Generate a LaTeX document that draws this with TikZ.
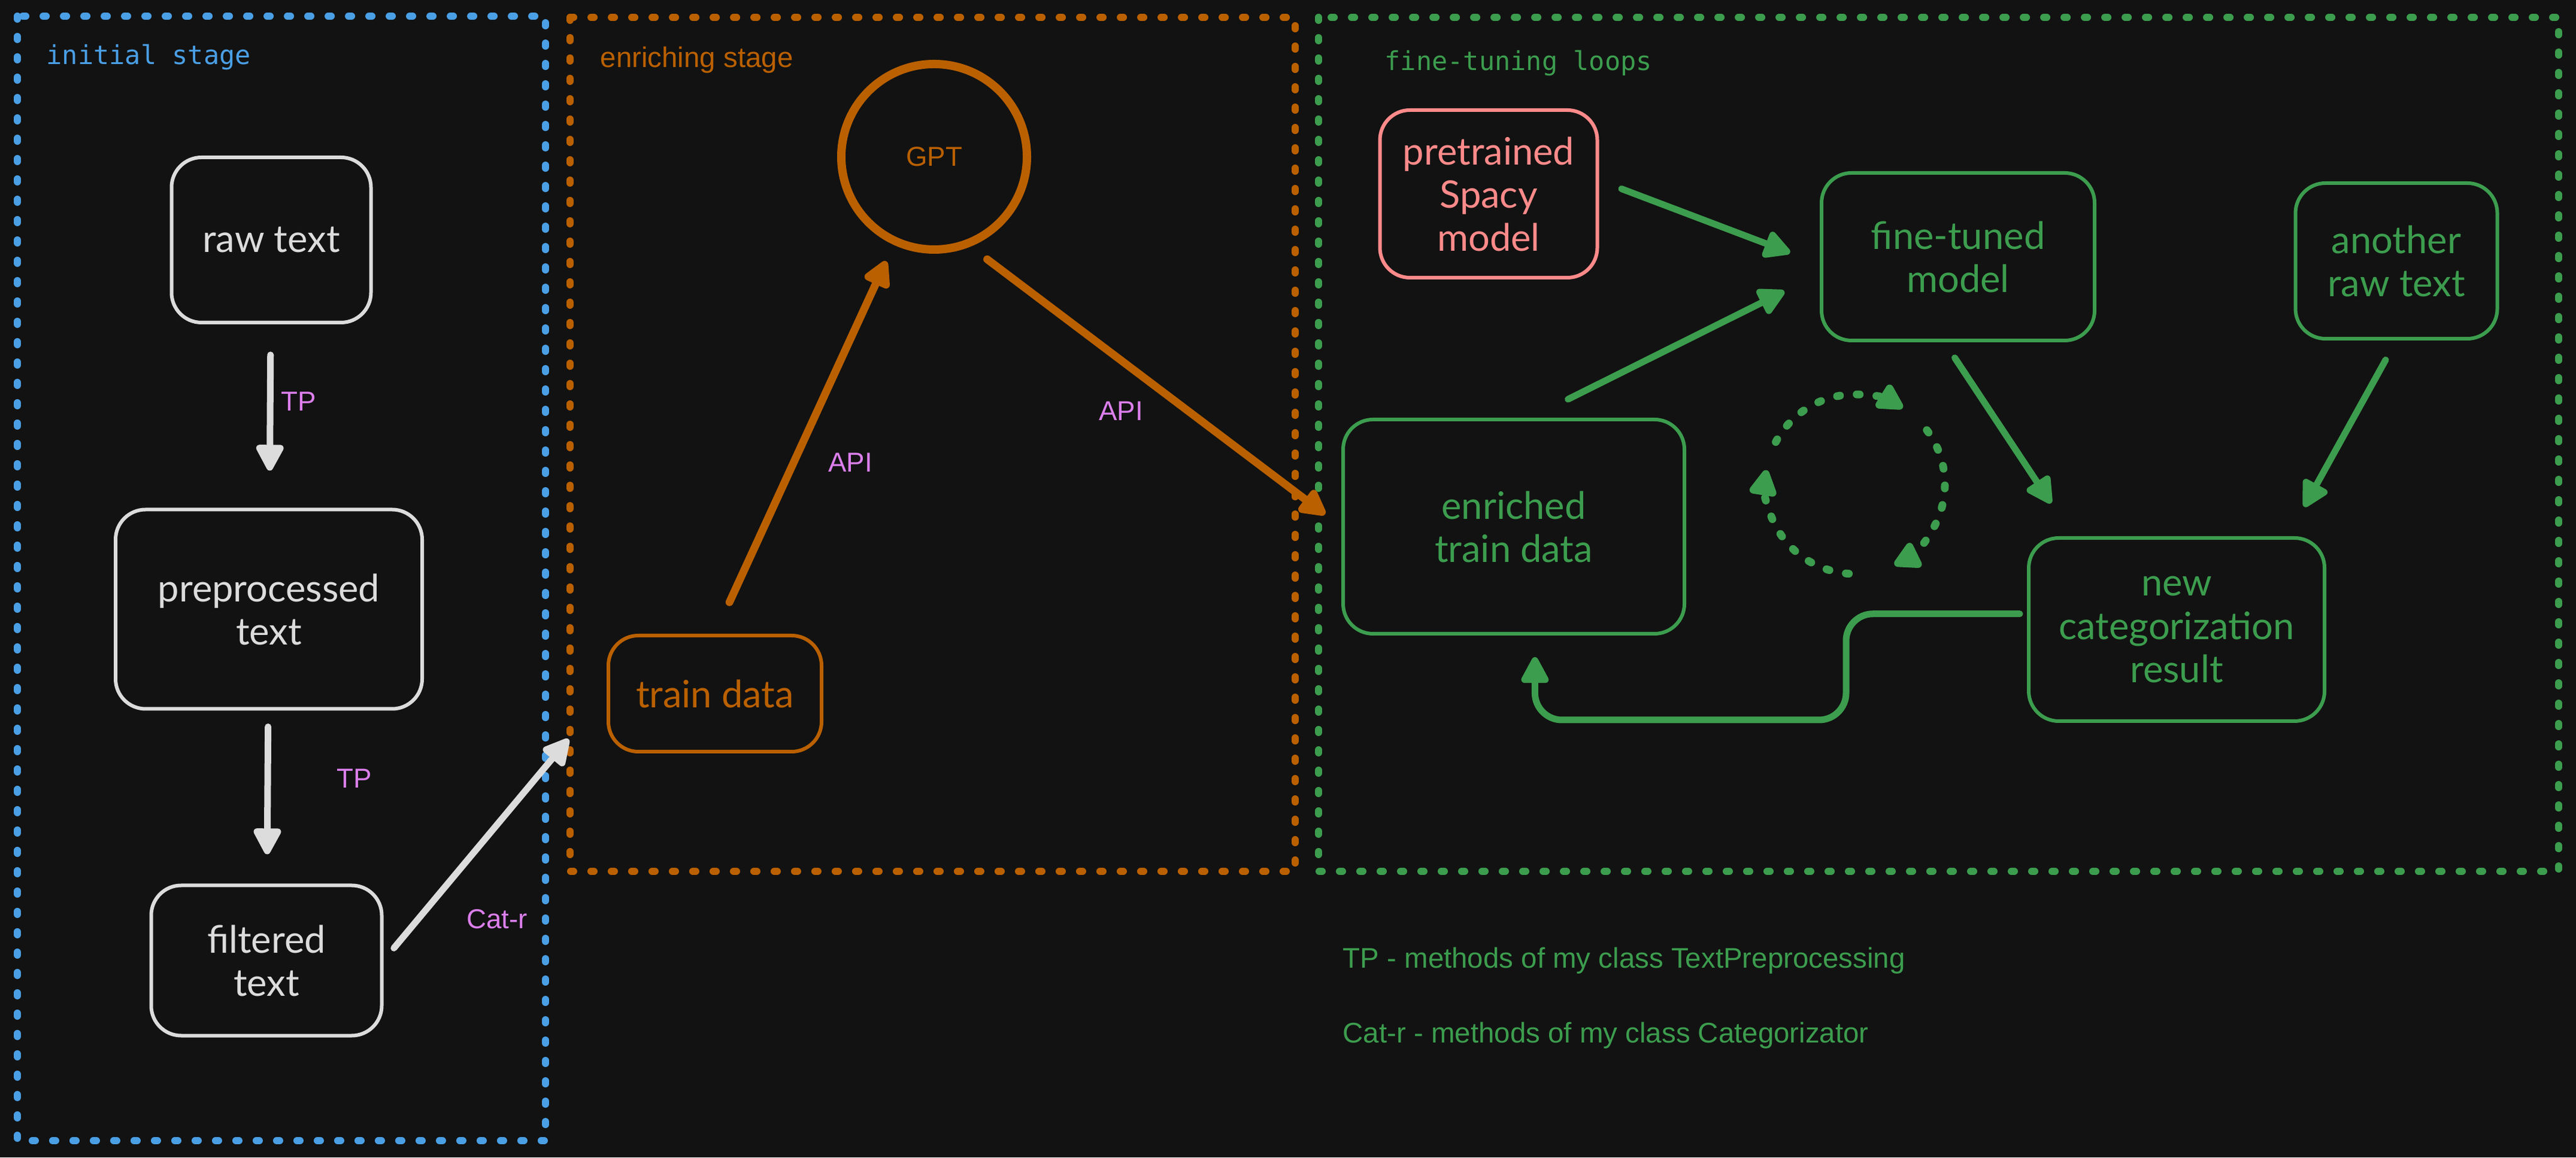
\documentclass[tikz,border=0pt]{standalone}
\usepackage{fontspec}
\setmainfont{Liberation Sans}
\newfontfamily\handfont{Lato}
\newfontfamily\codefont{DejaVu Sans Mono}
\usetikzlibrary{arrows.meta}

\definecolor{bgcol}{HTML}{121212}
\definecolor{bluecol}{HTML}{4A9FE5}
\definecolor{orangecol}{HTML}{BA6000}
\definecolor{greencol}{HTML}{3C9D4E}
\definecolor{pinkcol}{HTML}{FF8A8A}
\definecolor{whitecol}{HTML}{DCDCDC}
\definecolor{violetcol}{HTML}{DC7FEC}

\begin{document}
\begin{tikzpicture}[
	frame/.style={line width=0.12cm, dash pattern=on 0.05cm off 0.29cm, line cap=round},
	box/.style={draw, rounded corners=0.5cm, line width=0.06cm, align=center, inner sep=0pt,
		font=\handfont\fontsize{18}{20.5}\selectfont},
	lbl/.style={text=violetcol, font=\fontsize{13}{15}\selectfont},
	title/.style={anchor=base west, inner sep=0pt},
	arr/.style={line width=0.11cm, line cap=round, -{Triangle[length=0.5cm, width=0.5cm, round]}},
	whitearr/.style={arr, draw=whitecol},
	orangearr/.style={arr, draw=orangecol, line width=0.13cm},
	greenarr/.style={arr, draw=greencol},
	loopdots/.style={greenarr, dash pattern=on 0.05cm off 0.28cm, line width=0.13cm}
]
	\useasboundingbox (0,0) rectangle (43.02,19.34);
	\fill[bgcol] (0,0) rectangle (43.02,19.34);

	% stage frames
	\draw[frame, bluecol] (0.29,19.07) rectangle (9.11,0.28);
	\draw[frame, orangecol] (9.52,19.05) rectangle (21.63,4.78);
	\draw[frame, greencol] (22.02,19.05) rectangle (42.73,4.78);

	\node[title, text=bluecol, font=\codefont\fontsize{12.4}{14}\selectfont] (inittitle) at (0.77,18.26) {initial stage};
	\node[title, text=orangecol, font=\fontsize{13.5}{15}\selectfont] (enrichtitle) at (10.02,18.21) {enriching stage};
	\node[title, text=greencol, font=\codefont\fontsize{12.4}{14}\selectfont] (tunetitle) at (23.12,18.16) {fine-tuning loops};

	% initial stage
	\node[box, draw=whitecol, text=whitecol, minimum width=3.33cm, minimum height=2.76cm] (raw) at (4.53,15.33) {raw text};
	\node[box, draw=whitecol, text=whitecol, minimum width=5.12cm, minimum height=3.33cm] (prep) at (4.49,9.16) {preprocessed\\text};
	\node[box, draw=whitecol, text=whitecol, minimum width=3.85cm, minimum height=2.51cm] (filt) at (4.45,3.29) {filtered\\text};

	% enriching stage
	\node[box, draw=orangecol, text=orangecol, minimum width=3.56cm, minimum height=1.94cm] (train) at (11.94,7.75) {train data};
	\node[circle, draw=orangecol, line width=0.14cm, minimum size=3.1cm, text=orangecol, font=\fontsize{13}{15}\selectfont] (gpt) at (15.60,16.72) {GPT};

	% fine-tuning loops
	\node[box, draw=pinkcol, text=pinkcol, minimum width=3.63cm, minimum height=2.80cm] (pre) at (24.86,16.10) {pretrained\\Spacy\\model};
	\node[box, draw=greencol, text=greencol, minimum width=4.56cm, minimum height=2.80cm] (tuned) at (32.70,15.05) {fine-tuned\\model};
	\node[box, draw=greencol, text=greencol, minimum width=3.37cm, minimum height=2.60cm] (another) at (40.02,14.98) {another\\raw text};
	\node[box, draw=greencol, text=greencol, minimum width=5.70cm, minimum height=3.58cm] (enriched) at (25.28,10.54) {enriched\\train data};
	\node[box, draw=greencol, text=greencol, minimum width=4.94cm, minimum height=3.06cm] (newcat) at (36.35,8.82) {new\\categorization\\result};

	% connectors
	\path (raw) edge[whitearr, shorten <=0.51cm, shorten >=0.62cm] (prep);
	\path (prep) edge[whitearr, shorten <=0.27cm, shorten >=0.49cm] (filt);
	\path (filt.east) edge[whitearr, shorten <=0.27cm, shorten >=0.99cm] (train.west);
	\path (train.north) edge[orangearr, shorten <=0.58cm, shorten >=0.30cm] (gpt);
	\path (gpt.-68) edge[orangearr, shorten <=0.35cm, shorten >=0.34cm] (enriched.west);
	\path (pre.7) edge[greenarr, shorten <=0.40cm, shorten >=0.53cm] (tuned.183);
	\path (enriched.81) edge[greenarr, shorten <=0.69cm, shorten >=0.66cm] (tuned.187);
	\path (tuned.-99) edge[greenarr, shorten <=0.31cm, shorten >=0.66cm] (newcat.138);
	\path (another.south) edge[greenarr, shorten <=0.37cm, shorten >=0.56cm] (newcat.40);
	\draw[greenarr, rounded corners=0.45cm, shorten <=0.12cm, shorten >=0.36cm] (newcat.174) -| (30.83,7.31) -| (enriched.-79);

	% the loop sign
	\coordinate (loopc) at (30.98,11.25);
	\draw[loopdots] ([shift={(152:1.5)}]loopc) arc[start angle=152, end angle=58, radius=1.5cm];
	\draw[loopdots] ([shift={(37:1.5)}]loopc) arc[start angle=37, end angle=-64, radius=1.5cm];
	\draw[loopdots] ([shift={(-94:1.5)}]loopc) arc[start angle=-94, end angle=-189, radius=1.5cm];

	% connector labels
	\node[lbl] (tp1) at (4.99,12.63) {TP};
	\node[lbl] (tp2) at (5.92,6.33) {TP};
	\node[lbl] (catr) at (8.30,3.98) {Cat-r};
	\node[lbl] (api1) at (14.20,11.61) {API};
	\node[lbl] (api2) at (18.72,12.47) {API};

	% legend
	\node[title, text=greencol, font=\fontsize{13.5}{15}\selectfont] (tpnote) at (22.42,3.17) {TP - methods of my class TextPreprocessing};
	\node[title, text=greencol, font=\fontsize{13.5}{15}\selectfont] (catnote) at (22.42,1.92) {Cat-r - methods of my class Categorizator};
\end{tikzpicture}
\end{document}
